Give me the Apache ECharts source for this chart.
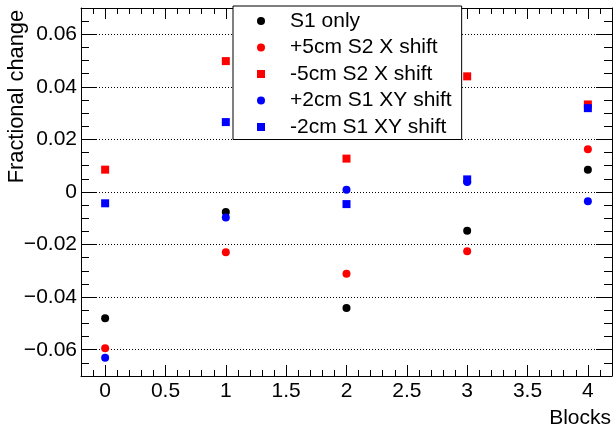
<!DOCTYPE html>
<html>
<head>
<meta charset="utf-8">
<script src="https://cdn.jsdelivr.net/npm/echarts@6/dist/echarts.min.js"></script>
<style>
  html, body { margin: 0; padding: 0; background: #fff; }
  #root { width: 614px; height: 428px; }
</style>
</head>
<body>
<div id="root"></div>
<script>
// values, one entry per block
const blocks = [0, 1, 2, 3, 4]
const seriesNames = ['S1 only', '+5cm S2 X shift', '-5cm S2 X shift', '+2cm S1 XY shift', '-2cm S1 XY shift']
const s1Only = [-0.0480, -0.0076, -0.0441, -0.0147, 0.0085]
const s2PlusX = [-0.0594, -0.0229, -0.0311, -0.0225, 0.0163]
const s2MinusX = [0.0085, 0.0498, 0.0127, 0.0440, 0.0333]
const s1PlusXY = [-0.0631, -0.0097, 0.0009, 0.0038, -0.0035]
const s1MinusXY = [-0.0043, 0.0266, -0.0046, 0.0048, 0.0319]
const seriesValues = [s1Only, s2PlusX, s2MinusX, s1PlusXY, s1MinusXY]
const seriesColors = ['#000000', '#ff0000', '#ff0000', '#0000ff', '#0000ff']
const seriesSymbols = ['circle', 'circle', 'rect', 'circle', 'rect']

const xRange = [-0.2, 4.2]
const yRange = [-0.07, 0.07]

const font = 'Liberation Sans, Arial, sans-serif'
const chart = echarts.init(document.getElementById('root'), null, { renderer: 'canvas' })

const gridBox = { left: 81, top: 8, width: 531, height: 368, outerBoundsMode: 'none' }

function isStep (v, step) {
  return Math.abs(v / step - Math.round(v / step)) < 1e-6
}

// one axis of the frame; major axes use min/maxInterval so ticks stay on round values
function frameAxis (gridIndex, position, range, step, tickLen, major, showLine) {
  const ax = {
    gridIndex: gridIndex,
    type: 'value',
    position: position,
    min: range[0],
    max: range[1],
    axisLine: { show: showLine, onZero: false, lineStyle: { color: '#000', width: 1 } },
    axisTick: { show: true, inside: true, length: tickLen, lineStyle: { color: '#000', width: 1 } },
    axisLabel: { show: false },
    splitLine: { show: false },
    minorTick: { show: false },
    axisPointer: { show: false }
  }
  if (major) {
    ax.minInterval = step
    ax.maxInterval = step
    ax.splitNumber = Math.round((range[1] - range[0]) / step)
  } else {
    ax.interval = step
  }
  return ax
}

const xBottom = frameAxis(0, 'bottom', xRange, 0.5, 11, true, true)
xBottom.axisLabel = {
  show: true, color: '#000', fontSize: 21, fontFamily: font, margin: 5,
  showMinLabel: false, showMaxLabel: false,
  formatter: v => isStep(v, 0.5) && v > -0.1 && v < 4.1 ? String(+v.toFixed(2)) : ''
}
const yLeft = frameAxis(0, 'left', yRange, 0.02, 16, true, true)
yLeft.axisLabel = {
  show: true, color: '#000', fontSize: 21, fontFamily: font, margin: 4,
  showMinLabel: false, showMaxLabel: false,
  formatter: v => {
    if (!isStep(v, 0.02) || Math.abs(v) > 0.065) return ''
    if (Math.abs(v) < 1e-9) return '0'
    return v.toFixed(2).replace('-', '\u2212')
  }
}
yLeft.splitLine = { show: true, lineStyle: { color: '#000', width: 1, type: [1, 2] } }

const option = {
  animation: false,
  backgroundColor: '#fff',
  grid: [gridBox, gridBox, gridBox, gridBox],
  xAxis: [
    xBottom,
    frameAxis(1, 'top', xRange, 0.5, 11, true, true),
    frameAxis(2, 'bottom', xRange, 0.1, 6, false, false),
    frameAxis(3, 'top', xRange, 0.1, 6, false, false)
  ],
  yAxis: [
    yLeft,
    frameAxis(1, 'right', yRange, 0.02, 16, true, true),
    frameAxis(2, 'left', yRange, 0.005, 8, false, false),
    frameAxis(3, 'right', yRange, 0.005, 8, false, false)
  ],
  legend: {
    orient: 'vertical',
    left: 233,
    top: 6,
    itemWidth: 48,
    itemHeight: 8,
    itemGap: 5.5,
    // the box hugs the drawn marker, not the icon cell, hence the wide left padding
    padding: [4.5, 10, 2, 24],
    backgroundColor: '#fff',
    borderColor: '#000',
    borderWidth: 1,
    borderRadius: 0,
    selectedMode: false,
    symbolKeepAspect: true,
    itemStyle: { borderWidth: 0 },
    textStyle: { color: '#000', fontSize: 21, fontFamily: font, lineHeight: 20 },
    data: seriesNames.map((n, i) => ({
      name: n,
      icon: seriesSymbols[i] === 'rect' ? 'path://M0,0L1,0L1,1L0,1Z' : 'circle'
    }))
  },
  graphic: [
    {
      type: 'text', x: 17, y: 10, rotation: Math.PI / 2,
      style: {
        text: 'Fractional change', fontSize: 21.8, fontFamily: font, fill: '#000',
        align: 'right', verticalAlign: 'middle', textAlign: 'right', textVerticalAlign: 'middle'
      }
    },
    {
      type: 'text', x: 611, y: 418,
      style: {
        text: 'Blocks', fontSize: 21, fontFamily: font, fill: '#000',
        align: 'right', verticalAlign: 'middle', textAlign: 'right', textVerticalAlign: 'middle'
      }
    }
  ],
  series: seriesNames.map((n, i) => ({
    name: n,
    type: 'scatter',
    xAxisIndex: 0,
    yAxisIndex: 0,
    symbol: seriesSymbols[i],
    symbolSize: 8,
    silent: true,
    itemStyle: { color: seriesColors[i], opacity: 1 },
    data: blocks.map((b, j) => [b, seriesValues[i][j]])
  }))
}

chart.setOption(option)
</script>
</body>
</html>
